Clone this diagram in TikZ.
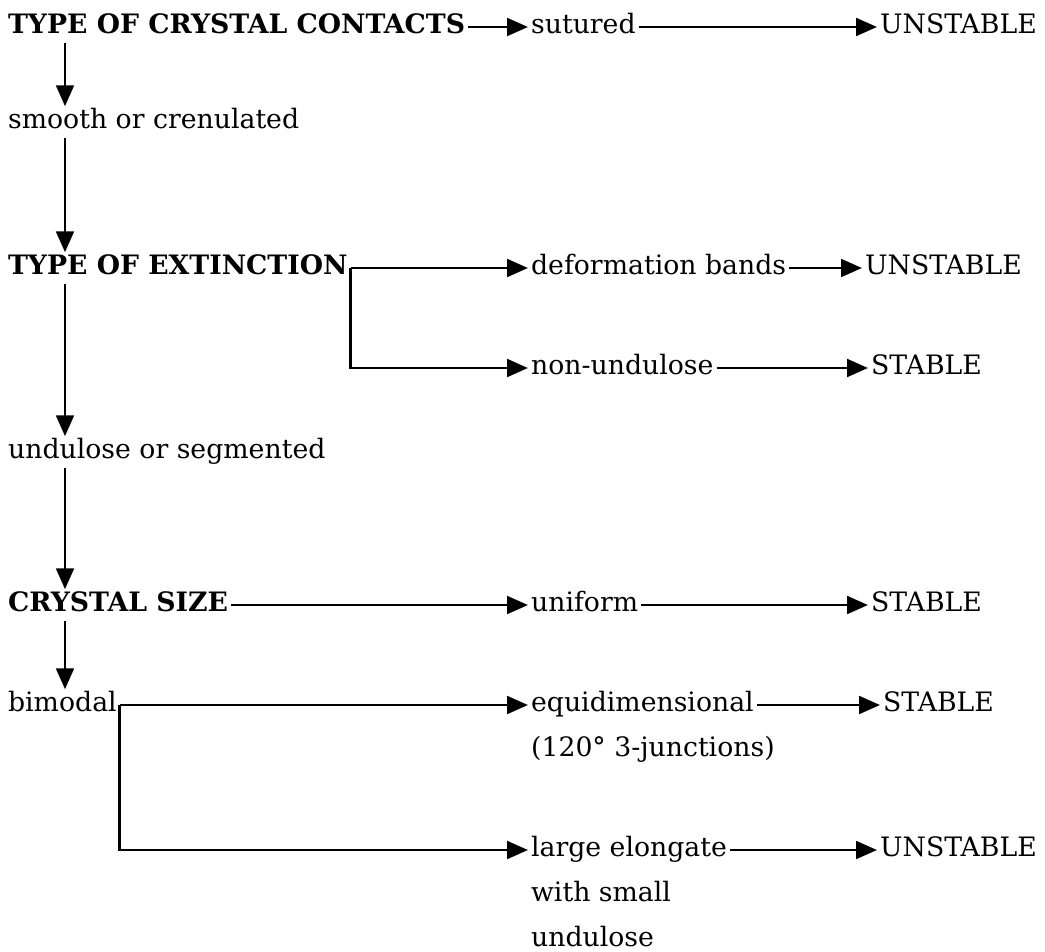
\documentclass[tikz,border=0pt]{standalone}
\usepackage{fontspec}
\setmainfont{DejaVu Serif}
\usetikzlibrary{arrows.meta,positioning}

\begin{document}
\begin{tikzpicture}[x=0.025cm, y=-0.025cm,
    >={Triangle[length=5.2mm, width=4.4mm]},
    every node/.style={anchor=west, inner xsep=2pt, inner ysep=1.5pt,
      text height=14pt, text depth=5pt, font=\fontsize{19}{23}\selectfont},
    head/.style={font=\fontsize{19}{23}\selectfont\bfseries},
    link/.style={->, line width=2pt}]
    \useasboundingbox (0,0) rectangle (1045,952);

    % Left column: questions and answers
    \node[head] (contacts)   at (5,27)  {TYPE OF CRYSTAL CONTACTS};
    \node       (smooth)     at (5,122) {smooth or crenulated};
    \node[head] (extinction) at (5,268) {TYPE OF EXTINCTION};
    \node       (undseg)     at (5,452) {undulose or segmented};
    \node[head] (size)       at (5,605) {CRYSTAL SIZE};
    \node       (bimodal)    at (5,705) {bimodal};
    \coordinate (spine) at (65,0);

    % Middle column
    \node (sutured)  at (528,27)  {sutured};
    \node (deform)   at (528,268) {deformation bands};
    \node (nonund)   at (528,368) {non-undulose};
    \node (uniform)  at (528,605) {uniform};
    \node (equi)     at (528,705) {equidimensional};
    \node (junc)     at (528,750) {(120° 3-junctions)};
    \node (large)    at (528,850) {large elongate};
    \node (withsm)   at (528,895) {with small};
    \node (undul)    at (528,940) {undulose};

    % Right column: results
    \node (unstA) at (877,27)  {UNSTABLE};
    \node (unstB) at (862,268) {UNSTABLE};
    \node (stabA) at (868,368) {STABLE};
    \node (stabB) at (868,605) {STABLE};
    \node (stabC) at (880,705) {STABLE};
    \node (unstC) at (877,850) {UNSTABLE};

    % Main spine
    \draw[link] (contacts.south -| spine) -- (smooth.north -| spine);
    \draw[link] (smooth.south -| spine) -- (extinction.north -| spine);
    \draw[link] (extinction.south -| spine) -- (undseg.north -| spine);
    \draw[link] (undseg.south -| spine) -- (size.north -| spine);
    \draw[link] (size.south -| spine) -- (bimodal.north -| spine);

    % Branches
    \draw[link] (contacts) -- (sutured);
    \draw[link] (sutured) -- (unstA);
    \draw[link] (extinction.east) -- (deform);
    \draw[link] (extinction.east) |- (nonund.west);
    \draw[link] (deform) -- (unstB);
    \draw[link] (nonund) -- (stabA);
    \draw[link] (size) -- (uniform);
    \draw[link] (uniform) -- (stabB);
    \draw[link] (bimodal.east) -- (equi);
    \draw[link] (bimodal.east) |- (large.west);
    \draw[link] (equi) -- (stabC);
    \draw[link] (large) -- (unstC);
\end{tikzpicture}
\end{document}
